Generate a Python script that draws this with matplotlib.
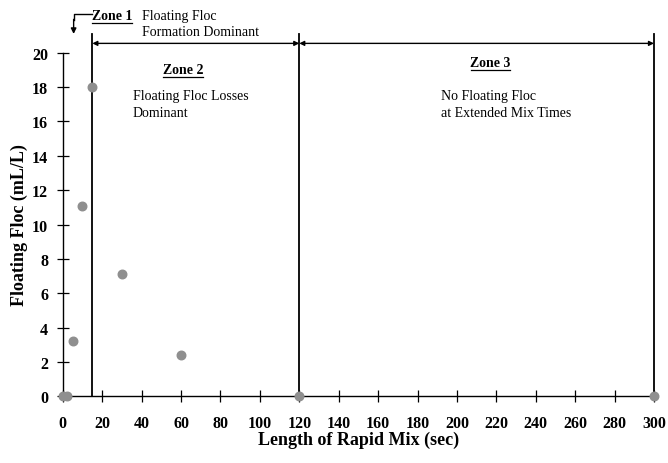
import matplotlib
matplotlib.use('Agg')
import matplotlib.pyplot as plt

# data
mix_time_s = [0, 2, 5, 10, 15, 30, 60, 120, 300]
floating_floc = [0, 0, 3.2, 11.1, 18.0, 7.1, 2.4, 0, 0]
zone_bounds = [15, 120, 300]
x_ticks = list(range(0, 301, 20))
y_ticks = list(range(0, 21, 2))

plt.rcParams['font.family'] = 'Liberation Serif'

fig = plt.figure(figsize=(6.68, 4.64), dpi=100, facecolor='w')
ax = fig.add_axes([0.094, 0.144, 0.885, 0.74])

ax.scatter(mix_time_s, floating_floc, s=38, color='#8f8f8f', zorder=5, clip_on=False)

# zone boundaries
for xb in zone_bounds:
    ax.plot([xb, xb], [0, 21.1], color='k', lw=1.3, clip_on=False)

# double arrows for zones 2 and 3
arr = dict(arrowstyle='<|-|>', color='k', lw=1.0, mutation_scale=7, shrinkA=0, shrinkB=0)
ax.annotate('', xy=(zone_bounds[0], 20.55), xytext=(zone_bounds[1], 20.55), arrowprops=arr, annotation_clip=False)
ax.annotate('', xy=(zone_bounds[1], 20.55), xytext=(zone_bounds[2], 20.55), arrowprops=arr, annotation_clip=False)

# zone 1 elbow arrow
ax.plot([15, 5.5, 5.5], [22.25, 22.25, 21.9], color='k', lw=1.0, clip_on=False)
ax.annotate('', xy=(5.5, 21.1), xytext=(5.5, 21.95),
            arrowprops=dict(arrowstyle='-|>', color='k', lw=1.0, mutation_scale=8, shrinkA=0, shrinkB=0),
            annotation_clip=False)

tkw = dict(fontsize=10, color='k')
ax.text(15, 22.2, 'Zone 1', fontweight='bold', ha='left', va='center', **tkw)
ax.plot([15, 35], [21.75, 21.75], color='k', lw=0.9, clip_on=False)
ax.text(40, 22.2, 'Floating Floc', ha='left', va='center', **tkw)
ax.text(40, 21.25, 'Formation Dominant', ha='left', va='center', **tkw)

ax.text(61, 19.0, 'Zone 2', fontweight='bold', ha='center', va='center', **tkw)
ax.plot([51, 71], [18.57, 18.57], color='k', lw=0.9)
ax.text(35.5, 17.0, 'Floating Floc Losses\nDominant', ha='left', va='center', linespacing=1.4, **tkw)

ax.text(217, 19.45, 'Zone 3', fontweight='bold', ha='center', va='center', **tkw)
ax.plot([207, 227], [19.02, 19.02], color='k', lw=0.9)
ax.text(192, 17.0, 'No Floating Floc\nat Extended Mix Times', ha='left', va='center', linespacing=1.4, **tkw)

ax.set_xlim(0, 300)
ax.set_ylim(0, 20)
ax.set_xticks(x_ticks)
ax.set_yticks(y_ticks)
ax.spines['top'].set_visible(False)
ax.spines['right'].set_visible(False)
ax.spines['left'].set_linewidth(1.0)
ax.spines['bottom'].set_linewidth(1.0)
ax.tick_params(direction='inout', length=9, width=0.9, labelsize=11.5, pad=6)
ax.tick_params(axis='x', pad=9)
for lab in ax.get_xticklabels() + ax.get_yticklabels():
    lab.set_fontweight('bold')

ax.set_xlabel('Length of Rapid Mix (sec)', fontsize=13, fontweight='bold', labelpad=0)
ax.set_ylabel('Floating Floc (mL/L)', fontsize=13, fontweight='bold', labelpad=3)

plt.savefig('out.png', dpi=100)
plt.close()
